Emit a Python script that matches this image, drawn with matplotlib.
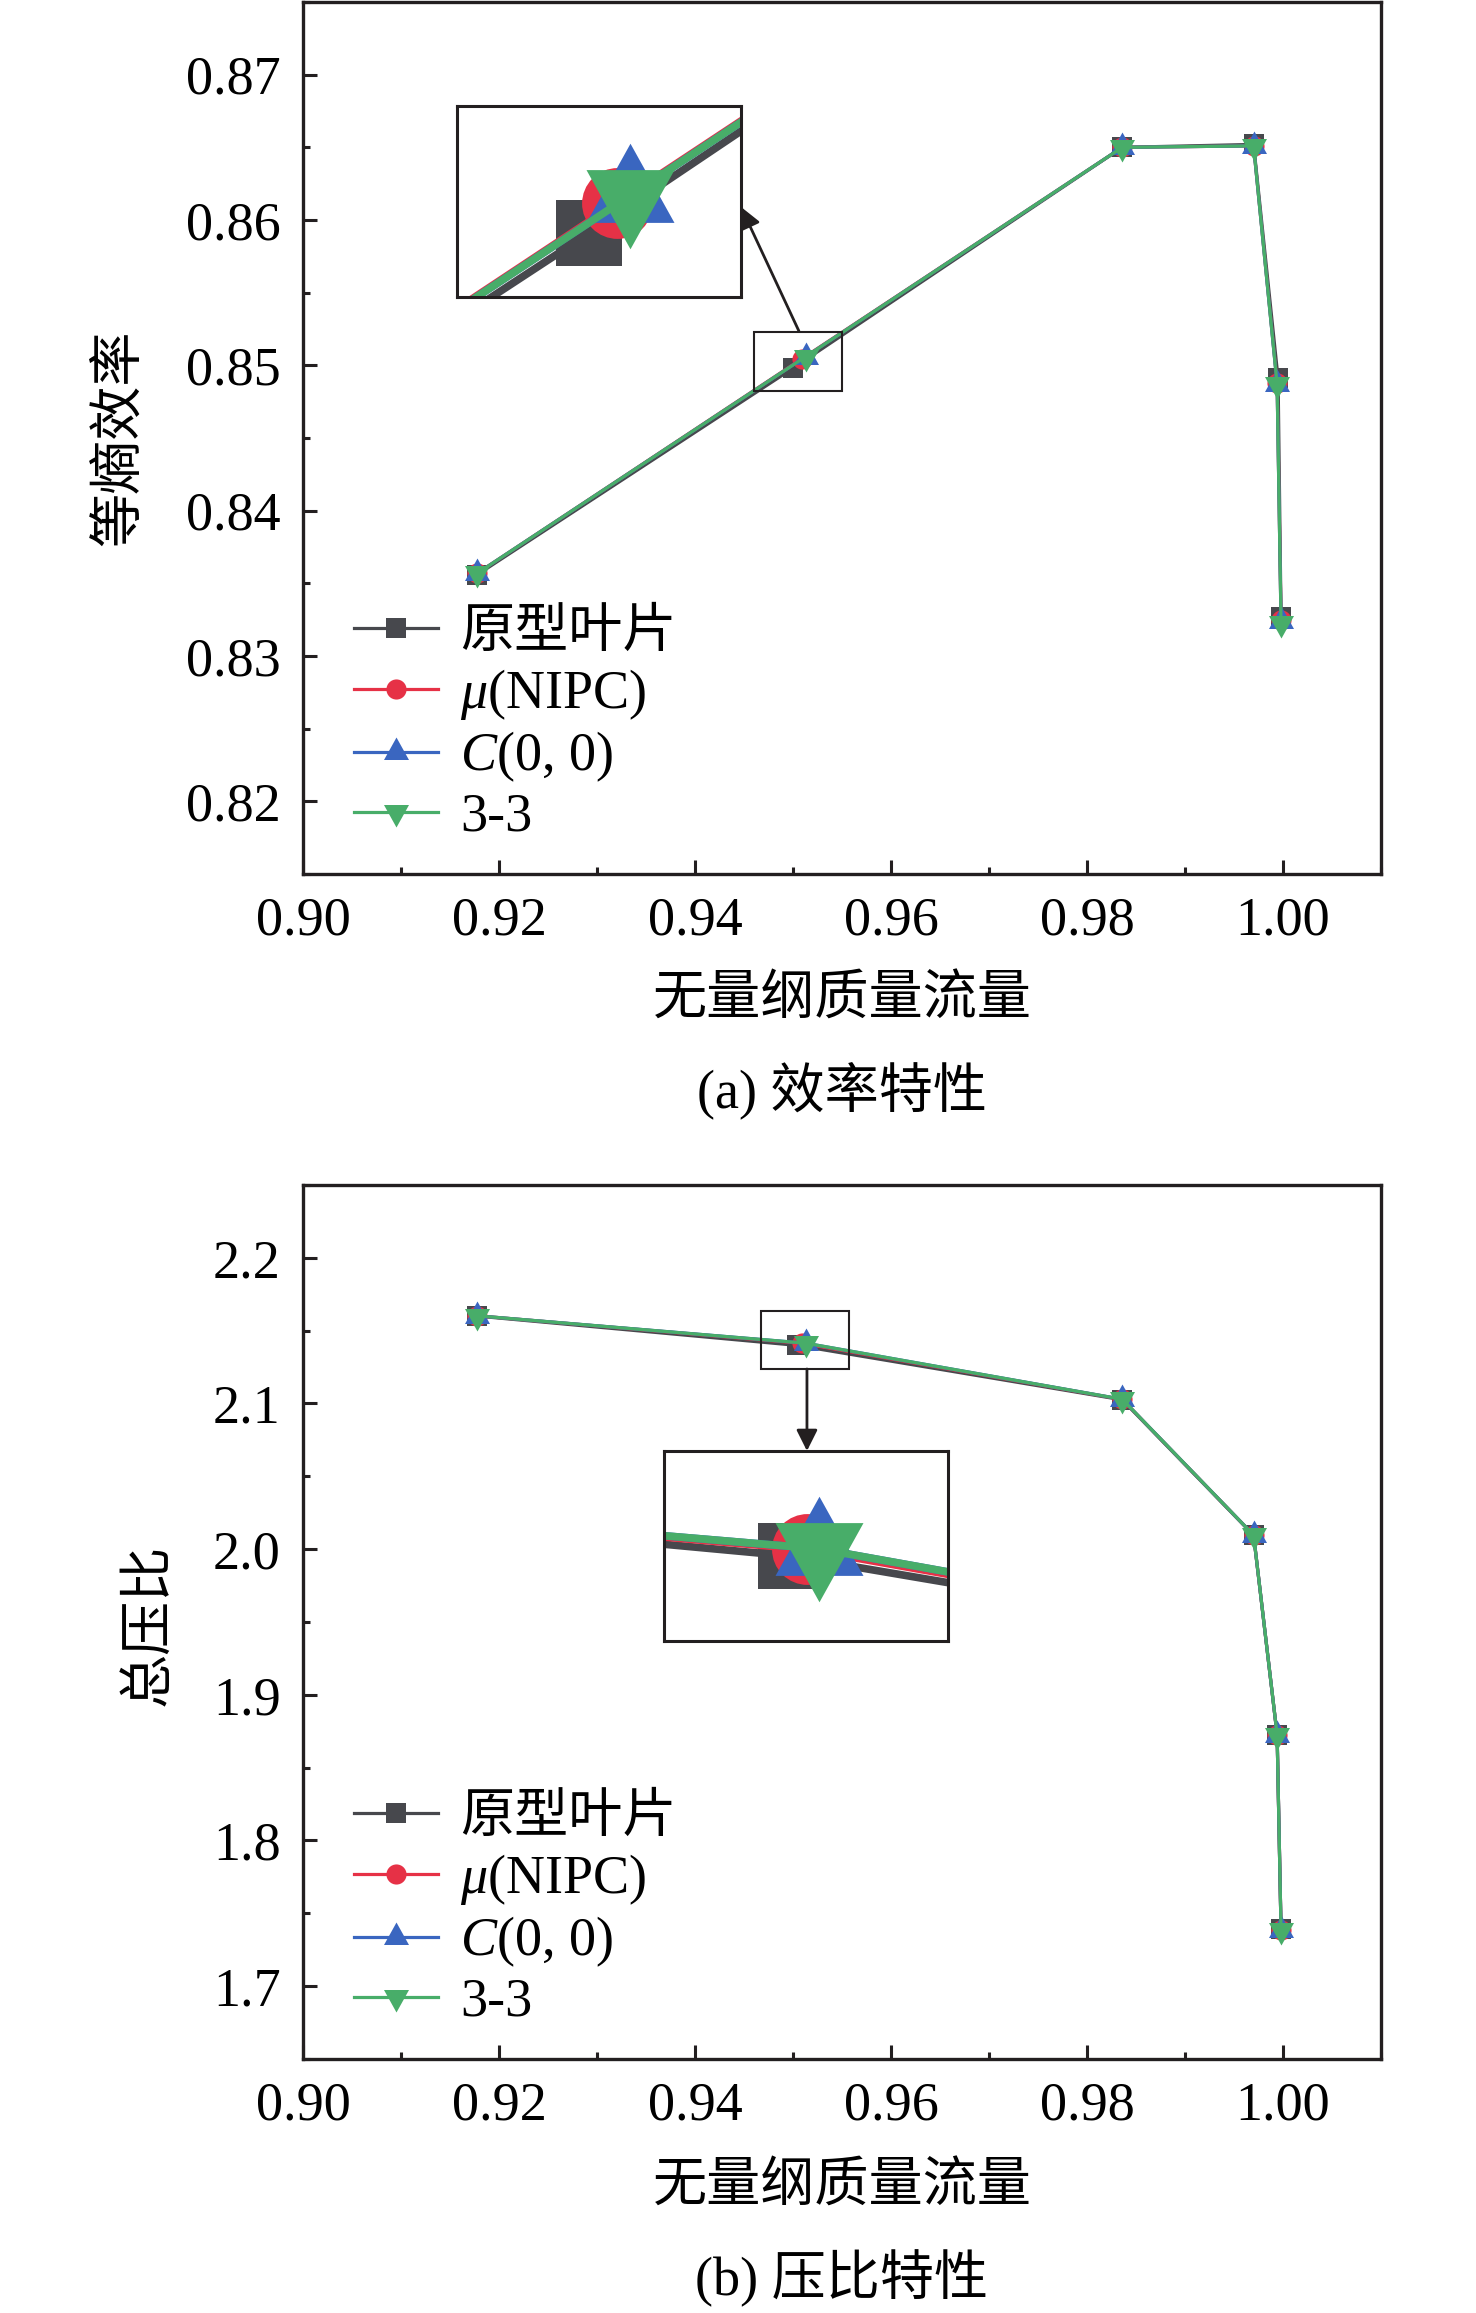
import numpy as np
import matplotlib
matplotlib.use("Agg")
import matplotlib.pyplot as plt
from matplotlib.path import Path
from matplotlib.patches import Rectangle
from matplotlib.ticker import MultipleLocator, FormatStrFormatter

plt.rcParams['font.family'] = ['Liberation Serif', 'Noto Sans CJK SC', 'DejaVu Sans']
plt.rcParams['mathtext.fontset'] = 'custom'
plt.rcParams['mathtext.rm'] = 'Liberation Serif'
plt.rcParams['mathtext.it'] = 'Liberation Serif:italic'

# ---------------- data ----------------
labels = ['原型叶片', r'$\mu$(NIPC)', r'$C$(0, 0)', '3-3']
colors = ['#47484d', '#e63146', '#3a66c0', '#48ad69']

flow_proto = [0.9178, 0.9500, 0.9836, 0.9970, 0.9995, 0.9998]
flow_nipc  = [0.9178, 0.9509, 0.9836, 0.9970, 0.9994, 0.9998]
flow_c00   = [0.9178, 0.9513, 0.9836, 0.9970, 0.9994, 0.9998]
flow_33    = [0.9178, 0.9513, 0.9836, 0.9970, 0.9994, 0.9998]

eff_proto = [0.8356, 0.8498, 0.8650, 0.8652, 0.8491, 0.8327]
eff_nipc  = [0.8357, 0.85045, 0.8650, 0.8651, 0.8488, 0.8325]
eff_c00   = [0.8357, 0.8506, 0.8650, 0.8651, 0.8487, 0.8324]
eff_33    = [0.8357, 0.8506, 0.8650, 0.8651, 0.8487, 0.8323]

flowb_proto = [0.9178, 0.9504, 0.9836, 0.9970, 0.9994, 0.9998]
flowb_nipc  = [0.9178, 0.9509, 0.9836, 0.9970, 0.9994, 0.9998]
flowb_c00   = [0.9178, 0.9513, 0.9836, 0.9970, 0.9994, 0.9998]
flowb_33    = [0.9178, 0.9513, 0.9836, 0.9970, 0.9994, 0.9998]

pr_proto = [2.1600, 2.1399, 2.1025, 2.0095, 1.8726, 1.7390]
pr_nipc  = [2.1602, 2.1413, 2.1028, 2.0097, 1.8726, 1.7389]
pr_c00   = [2.1602, 2.1414, 2.1029, 2.0097, 1.8726, 1.7388]
pr_33    = [2.1602, 2.1414, 2.1029, 2.0097, 1.8726, 1.7388]

eff_xs = [flow_proto, flow_nipc, flow_c00, flow_33]
eff_ys = [eff_proto, eff_nipc, eff_c00, eff_33]
pr_xs = [flowb_proto, flowb_nipc, flowb_c00, flowb_33]
pr_ys = [pr_proto, pr_nipc, pr_c00, pr_33]

xticks = [0.90, 0.92, 0.94, 0.96, 0.98, 1.00]

# centroid-centred triangles
tri_up = Path([(0, 0.6), (-0.5, -0.3), (0.5, -0.3), (0, 0.6)],
              [Path.MOVETO, Path.LINETO, Path.LINETO, Path.CLOSEPOLY])
tri_dn = Path([(0, -0.6), (-0.5, 0.3), (0.5, 0.3), (0, -0.6)],
              [Path.MOVETO, Path.LINETO, Path.LINETO, Path.CLOSEPOLY])
markers = ['s', 'o', tri_up, tri_dn]
ms_main = [13.7, 14.5, 21.6, 21.6]
ms_inset = [48, 51, 76, 76]

FS = 39
W, H = 1476, 2313
fig = plt.figure(figsize=(W / 100, H / 100), dpi=100)

def style_axes(ax, ylim, ymaj, ymin, yfmt):
    ax.set_xlim(0.90, 1.01)
    ax.set_ylim(*ylim)
    ax.set_xticks(xticks)
    ax.xaxis.set_major_formatter(FormatStrFormatter('%.2f'))
    ax.xaxis.set_minor_locator(MultipleLocator(0.01))
    ax.yaxis.set_major_locator(MultipleLocator(ymaj))
    ax.yaxis.set_minor_locator(MultipleLocator(ymin))
    ax.yaxis.set_major_formatter(FormatStrFormatter(yfmt))
    ax.tick_params(which='both', direction='in', top=False, right=False,
                   width=2.2, color='#231f20', labelsize=FS, pad=16)
    ax.tick_params(which='major', length=10)
    ax.tick_params(which='minor', length=5)
    for s in ax.spines.values():
        s.set_linewidth(2.4)
        s.set_color('#231f20')

def draw_series(ax, xs, ys, ms, lw, with_label):
    for i in range(4):
        ax.plot(xs[i], ys[i], color=colors[i], lw=lw, marker=markers[i],
                ms=ms[i], mec=colors[i], mew=0, mfc=colors[i],
                label=labels[i] if with_label else None)

def make_panel(rect, xs, ys, ylim, ymaj, ymin, yfmt, box, inset_rect,
               inset_xlim, inset_ylim, arrow_tail, arrow_head):
    ax = fig.add_axes(rect)
    style_axes(ax, ylim, ymaj, ymin, yfmt)
    draw_series(ax, xs, ys, ms_main, 2.3, True)
    ax.legend(loc='lower left', bbox_to_anchor=(0.032, 0.017),
              frameon=False, fontsize=FS, handlelength=1.55,
              handletextpad=0.42, labelspacing=0.15, borderpad=0.3,
              borderaxespad=0.0)
    # zoom rectangle
    ax.add_patch(Rectangle((box[0], box[2]), box[1] - box[0], box[3] - box[2],
                           fill=False, lw=1.5, ec='#231f20', zorder=10))
    # inset
    axin = ax.inset_axes(inset_rect)
    draw_series(axin, xs, ys, ms_inset, 5.5, False)
    axin.set_xlim(*inset_xlim)
    axin.set_ylim(*inset_ylim)
    axin.set_xticks([])
    axin.set_yticks([])
    for s in axin.spines.values():
        s.set_linewidth(2.2)
        s.set_color('#231f20')
    ax.annotate('', xy=arrow_head, xycoords='axes fraction',
                xytext=arrow_tail, textcoords='axes fraction',
                arrowprops=dict(arrowstyle='-|>', lw=2.0, color='#231f20',
                                mutation_scale=32, shrinkA=0, shrinkB=0))
    return ax

# top panel
make_panel([303 / W, 1 - 874 / H, 1078 / W, 872 / H],
           eff_xs, eff_ys, (0.815, 0.875), 0.01, 0.005, '%.2f',
           (0.94602, 0.95497, 0.84821, 0.85226),
           [0.1429, 0.6617, 0.2635, 0.219],
           (0.94585, 0.9548), (0.84845, 0.8525),
           (0.460, 0.6227), (0.4063, 0.765))

# bottom panel
make_panel([303 / W, 1 - 2059 / H, 1078 / W, 874 / H],
           pr_xs, pr_ys, (1.65, 2.25), 0.1, 0.05, '%.1f',
           (0.94673, 0.95568, 2.12359, 2.16337),
           [0.3349, 0.4783, 0.2635, 0.2174],
           (0.94641, 0.95536), (2.1221, 2.1619),
           (0.4675, 0.7895), (0.4675, 0.6957))

# texts
fig.text(121 / W, 1 - 438 / H, '等熵效率', rotation=90, ha='center', va='center', fontsize=FS)
fig.text(842 / W, 1 - 1001 / H, '无量纲质量流量', ha='center', va='center', fontsize=FS)
fig.text(842 / W, 1 - 1090 / H, '(a) 效率特性', ha='center', va='center', fontsize=FS)
fig.text(151 / W, 1 - 1625 / H, '总压比', rotation=90, ha='center', va='center', fontsize=FS)
fig.text(842 / W, 1 - 2188 / H, '无量纲质量流量', ha='center', va='center', fontsize=FS)
fig.text(842 / W, 1 - 2278 / H, '(b) 压比特性', ha='center', va='center', fontsize=FS)

fig.savefig('out.png', dpi=100)
